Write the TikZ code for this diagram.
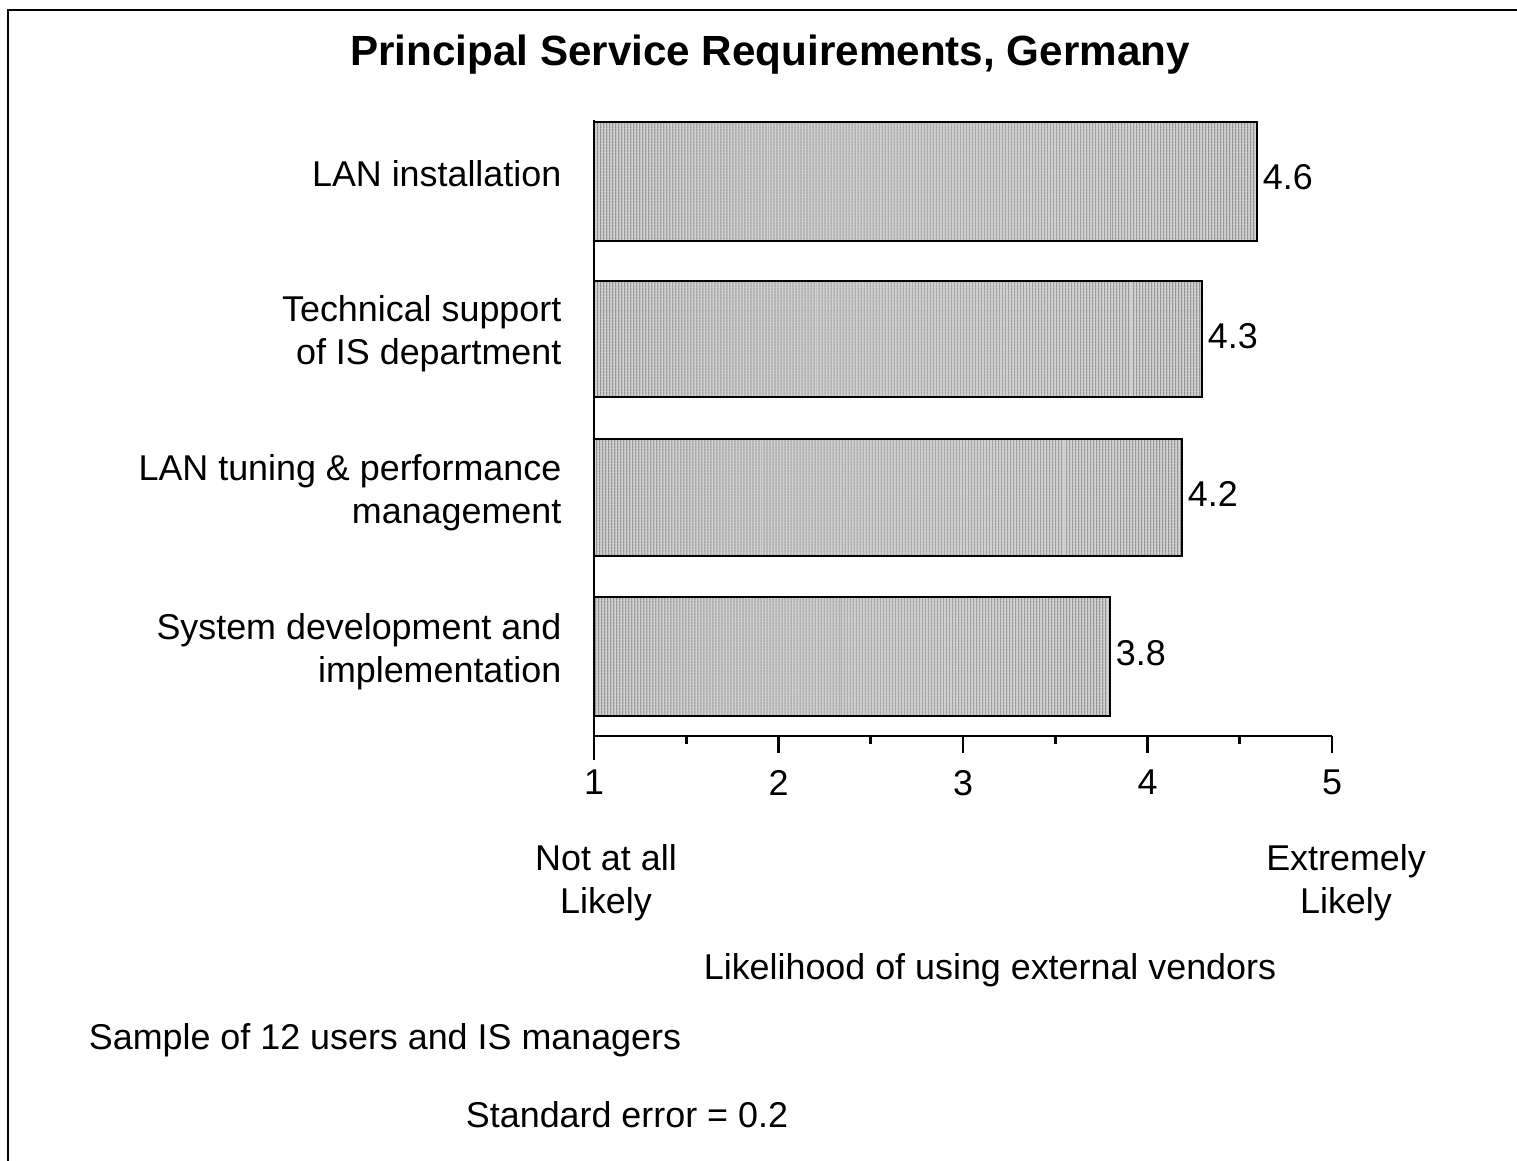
\documentclass[tikz,border=0pt]{standalone}
\usepackage{fontspec}
\setmainfont{Liberation Sans}
\usetikzlibrary{patterns.meta}

\begin{document}
\begin{tikzpicture}[
    x=0.01cm, y=-0.01cm,
    every node/.style={inner sep=0pt, font=\fontsize{10.2}{12.2}\selectfont},
    cat/.style={anchor=east, align=right},
    val/.style={anchor=west, xshift=1.5pt},
    bar/.style={draw, line width=0.7pt, preaction={fill=gray!35},
        pattern={Lines[angle=90, distance=0.9pt, line width=0.3pt]},
        pattern color=black!60},
    axis/.style={line width=0.8pt}
]
\useasboundingbox (0,0) rectangle (1517,1161);
% frame
\draw[line width=0.7pt] (8,1161) -- (8,10) -- (1517,10);

\node (title) at (770,55) {\fontsize{12}{14}\selectfont\bfseries Principal Service Requirements, Germany};

% bars
\draw[bar] (594,122) rectangle (1257,241);
\draw[bar] (594,281) rectangle (1202,397);
\draw[bar] (594,439) rectangle (1182,556);
\draw[bar] (594,597) rectangle (1110,716);

\node[val] (v1) at (1257,177) {4.6};
\node[val] (v2) at (1202,336) {4.3};
\node[val] (v3) at (1182,494) {4.2};
\node[val] (v4) at (1110,653) {3.8};

\node[cat] (lan) at (562,174) {LAN installation};
\node[cat] (tech) at (562,334) {Technical support\\of IS department};
\node[cat] (tuning) at (562,493) {LAN tuning \& performance\\management};
\node[cat] (sysdev) at (562,652) {System development and\\implementation};

% axes
\draw[axis] (594,120) -- (594,760);
\draw[axis] (594,736) -- (1332,736);
\foreach \v [count=\i] in {1,...,5}
  \draw[axis] ({594+184.5*(\v-1)},736) -- ++(0,17)
    node[below=4.5pt] (t\i) {\v};
\foreach \v in {1.5,2.5,3.5,4.5}
  \draw[axis] ({594+184.5*(\v-1)},736) -- ++(0,8);

\node[align=center] (notlikely) at (606,883) {Not at all\\Likely};
\node[align=center] (extlikely) at (1346,883) {Extremely\\Likely};
\node (xlabel) at (990,970) {Likelihood of using external vendors};
\node (sample) at (385,1040) {Sample of 12 users and IS managers};
\node (stderr) at (627,1115) {Standard error = 0.2};
\end{tikzpicture}
\end{document}
